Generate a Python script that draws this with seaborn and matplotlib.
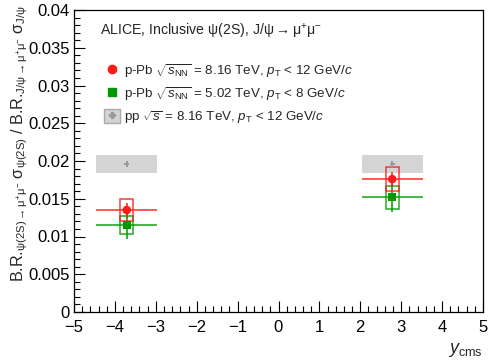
import matplotlib
matplotlib.use("Agg")
import matplotlib.pyplot as plt
from matplotlib.lines import Line2D
from matplotlib.patches import Patch
from matplotlib.ticker import MultipleLocator
import seaborn as sns
import pandas as pd
import numpy as np

# rapidity bins (cms)
y_lo = [-4.46, 2.03]
y_hi = [-2.96, 3.53]
y_mean = [-3.71, 2.78]

# p-Pb 8.16 TeV
red_val = [0.0135, 0.0176]
red_stat = [0.0010, 0.0010]
red_sys = [0.00145, 0.0016]

# p-Pb 5.02 TeV
green_val = [0.0115, 0.0152]
green_stat = [0.0018, 0.0019]
green_sys = [0.00115, 0.00155]

# pp 8.16 TeV reference
pp_val = [0.0196, 0.0196]
pp_sys = [0.0012, 0.0012]

labels = [r'p-Pb $\sqrt{\mathit{s}_{\mathrm{NN}}}$ = 8.16 TeV, $\mathit{p}_{\mathrm{T}}$ < 12 GeV/$\mathit{c}$',
          r'p-Pb $\sqrt{\mathit{s}_{\mathrm{NN}}}$ = 5.02 TeV, $\mathit{p}_{\mathrm{T}}$ < 8 GeV/$\mathit{c}$',
          r'pp $\sqrt{\mathit{s}}$ = 8.16 TeV, $\mathit{p}_{\mathrm{T}}$ < 12 GeV/$\mathit{c}$']

red = '#ff1a1a'
green = '#009a00'
grey_box = '#d4d4d4'
grey_mark = '#9a9a9a'

sns.set_style("ticks")
plt.rcParams['font.family'] = ['Liberation Sans', 'DejaVu Sans']
plt.rcParams['mathtext.fontset'] = 'custom'
plt.rcParams['mathtext.rm'] = 'Liberation Sans'
plt.rcParams['mathtext.it'] = 'Liberation Sans:italic'
plt.rcParams['mathtext.default'] = 'regular'

df = pd.DataFrame({
    'y_cms': y_mean * 3,
    'ratio': red_val + green_val + pp_val,
    'system': ['pPb8'] * 2 + ['pPb5'] * 2 + ['pp'] * 2,
})

fig, ax = plt.subplots(figsize=(4.98, 3.6), dpi=100)
fig.subplots_adjust(left=74 / 498, right=483 / 498, top=1 - 10 / 360, bottom=1 - 312 / 360)

half_w = 0.16
bin_w = np.array(y_hi) - np.array(y_lo)
bin_c = (np.array(y_hi) + np.array(y_lo)) / 2

# pp boxes across the full rapidity bin
ax.bar(bin_c, 2 * np.array(pp_sys), bottom=np.array(pp_val) - np.array(pp_sys), width=bin_w,
       color=grey_box, edgecolor='none', zorder=1)

# horizontal bin width lines
ax.hlines(red_val, y_lo, y_hi, color=red, lw=1.2, alpha=0.85, zorder=3)
ax.hlines(green_val, y_lo, y_hi, color=green, lw=1.2, alpha=0.85, zorder=3)

# systematic boxes
ax.bar(y_mean, 2 * np.array(green_sys), bottom=np.array(green_val) - np.array(green_sys), width=2 * half_w,
       fill=False, edgecolor=green, lw=1.1, alpha=0.85, zorder=3)
ax.bar(y_mean, 2 * np.array(red_sys), bottom=np.array(red_val) - np.array(red_sys), width=2 * half_w,
       fill=False, edgecolor=red, lw=1.1, alpha=0.85, zorder=4)

# stat errors
ax.errorbar(y_mean, green_val, yerr=green_stat, fmt='none', ecolor=green, elinewidth=1.1, capsize=0, zorder=3)
ax.errorbar(y_mean, red_val, yerr=red_stat, fmt='none', ecolor=red, elinewidth=1.1, capsize=0, zorder=4)

sns.scatterplot(data=df, x='y_cms', y='ratio', hue='system', style='system',
                palette={'pPb8': red, 'pPb5': green, 'pp': grey_mark},
                markers={'pPb8': 'o', 'pPb5': 's', 'pp': 'P'},
                size='system', sizes={'pPb8': 38, 'pPb5': 30, 'pp': 14},
                linewidth=0, legend=False, zorder=5, ax=ax)

ax.set_xlim(-5, 5)
ax.set_ylim(0, 0.04)
ax.xaxis.set_major_locator(MultipleLocator(1))
ax.xaxis.set_minor_locator(MultipleLocator(0.2))
ax.yaxis.set_major_locator(MultipleLocator(0.005))
ax.yaxis.set_minor_locator(MultipleLocator(0.001))
ax.set_xticks(np.arange(-5, 6, 1))
ax.set_xticklabels(['\u22125', '\u22124', '\u22123', '\u22122', '\u22121', '0', '1', '2', '3', '4', '5'])
ax.set_yticks([0, 0.005, 0.01, 0.015, 0.02, 0.025, 0.03, 0.035, 0.04])
ax.set_yticklabels(['0', '0.005', '0.01', '0.015', '0.02', '0.025', '0.03', '0.035', '0.04'])
ax.tick_params(which='both', direction='in', labelsize=12, width=0.8, colors='black')
ax.tick_params(which='major', length=8)
ax.tick_params(which='minor', length=4)
ax.tick_params(axis='x', pad=6)
ax.tick_params(axis='y', pad=3)
for sp in ax.spines.values():
    sp.set_visible(True)
    sp.set_linewidth(0.9)
    sp.set_color('black')

ax.set_xlabel(r'$\mathit{y}_{\mathrm{cms}}$', fontsize=13, ha='right')
ax.xaxis.set_label_coords(1.0, -0.095)
ax.set_ylabel(r'B.R.$_{\psi(2S)\rightarrow\mu^{+}\mu^{-}}\ \sigma_{\psi(2S)}$ / B.R.$_{J/\psi\rightarrow\mu^{+}\mu^{-}}\ \sigma_{J/\psi}$',
              fontsize=11.6, ha='right')
ax.yaxis.set_label_coords(-0.108, 1.017)

ax.text(0.064, 0.93, r'ALICE, Inclusive $\psi$(2S), J/$\psi\rightarrow\mu^{+}\mu^{-}$',
        transform=ax.transAxes, fontsize=10.2, va='center', ha='left')

handles = [Line2D([], [], ls='none', marker='o', color=red, markersize=6),
           Line2D([], [], ls='none', marker='s', color=green, markersize=5.5),
           (Patch(facecolor=grey_box, edgecolor='#aaaaaa', lw=1.0),
            Line2D([], [], ls='none', marker='P', color=grey_mark, markersize=4))]
ax.legend(handles, labels, loc='upper left', bbox_to_anchor=(0.06, 0.845), frameon=False,
          fontsize=9.6, handlelength=1.2, handleheight=1.2, handletextpad=0.3, labelspacing=0.42,
          borderaxespad=0)

fig.savefig('out.png', dpi=100)
